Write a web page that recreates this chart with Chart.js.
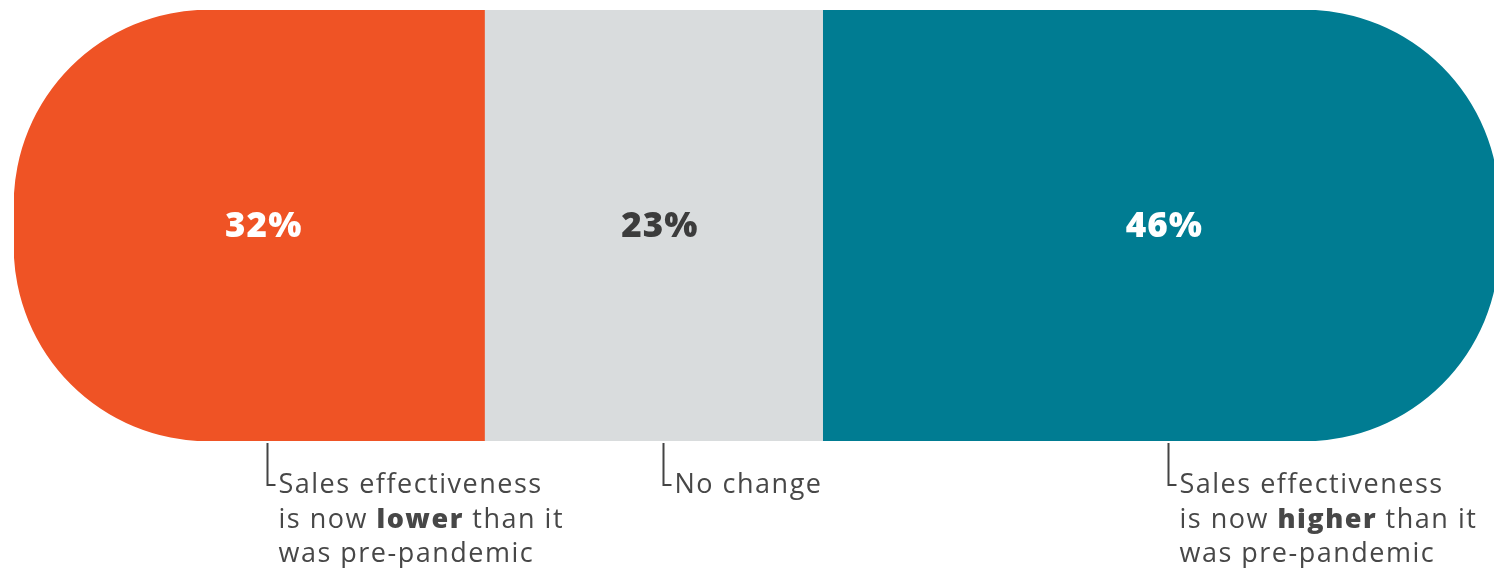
<!DOCTYPE html>
<html>
<head>
<meta charset="utf-8">
<script src="https://cdn.jsdelivr.net/npm/chart.js@4"></script>
<style>
  html, body { margin: 0; padding: 0; background: #ffffff; overflow: hidden; }
  #wrap { width: 1500px; height: 568px; }
</style>
</head>
<body>
<div id="wrap"><canvas id="c" width="1500" height="568"></canvas></div>
<script>
// ---- data ----
const categories = ['Lower than pre-pandemic', 'No change', 'Higher than pre-pandemic'];
const values = [32, 23, 46];
const valueLabels = ['32%', '23%', '46%'];
const colors = ['#EF5325', '#D9DCDD', '#007C92'];
const labelColors = ['#FFFFFF', '#3C3C3C', '#FFFFFF'];
// where each value label sits along the bar (in data units)
const labelAt = [16.95, 43.9, 78.2];
// callout texts: lines made of [text, bold] runs
const calloutText = [
  [[['Sales effectiveness', false]], [['is now ', false], ['lower', true], [' than it', false]], [['was pre-pandemic', false]]],
  [[['No change', false]]],
  [[['Sales effectiveness', false]], [['is now ', false], ['higher', true], [' than it', false]], [['was pre-pandemic', false]]]
];

const R = 195;
const datasets = values.map((v, i) => ({
  label: categories[i],
  data: [v],
  backgroundColor: colors[i],
  borderWidth: 0,
  borderSkipped: false,
  borderRadius: i === 0 ? {topLeft: R, bottomLeft: R, topRight: 0, bottomRight: 0}
             : i === values.length - 1 ? {topLeft: 0, bottomLeft: 0, topRight: R, bottomRight: R}
             : 0,
  barPercentage: 1,
  categoryPercentage: 1
}));

const TEXT_FONT = '"Open Sans", Lato, sans-serif';

const labelPlugin = {
  id: 'labels',
  afterDatasetsDraw(chart) {
    const ctx = chart.ctx;
    const xs = chart.scales.x;
    const area = chart.chartArea;
    const midY = (area.top + area.bottom) / 2;
    ctx.save();
    values.forEach((v, i) => {
      const x = xs.getPixelForValue(labelAt[i]);
      // value label
      ctx.font = '800 35px ' + TEXT_FONT;
      ctx.letterSpacing = '1px';
      ctx.fillStyle = labelColors[i];
      ctx.textAlign = 'center';
      ctx.textBaseline = 'middle';
      ctx.fillText(valueLabels[i], x + 0.5, midY + 2);
      // callout
      const lx = Math.round(x + 4) + 0.5;
      const y0 = area.bottom + 2;
      const y1 = area.bottom + 44;
      ctx.strokeStyle = '#444444';
      ctx.lineWidth = 2;
      ctx.beginPath();
      ctx.moveTo(lx, y0);
      ctx.lineTo(lx, y1);
      ctx.lineTo(lx + 8, y1);
      ctx.stroke();
      ctx.textAlign = 'left';
      ctx.textBaseline = 'alphabetic';
      ctx.fillStyle = '#474747';
      ctx.letterSpacing = '1.5px';
      calloutText[i].forEach((line, li) => {
        let tx = lx + 11;
        const ty = area.bottom + 52 + li * 34.5;
        line.forEach(([t, bold]) => {
          ctx.font = (bold ? '800 ' : '400 ') + '27px ' + TEXT_FONT;
          ctx.fillText(t, tx, ty);
          tx += ctx.measureText(t).width;
        });
      });
    });
    ctx.restore();
  }
};

new Chart(document.getElementById('c'), {
  type: 'bar',
  data: { labels: [''], datasets },
  options: {
    indexAxis: 'y',
    responsive: false,
    animation: false,
    events: [],
    layout: { padding: { left: 14, right: 1, top: 10, bottom: 127 } },
    scales: {
      x: { stacked: true, min: 0, max: 101, display: false },
      y: { stacked: true, display: false }
    },
    plugins: { legend: { display: false }, tooltip: { enabled: false } }
  },
  plugins: [labelPlugin]
});
</script>
</body>
</html>
